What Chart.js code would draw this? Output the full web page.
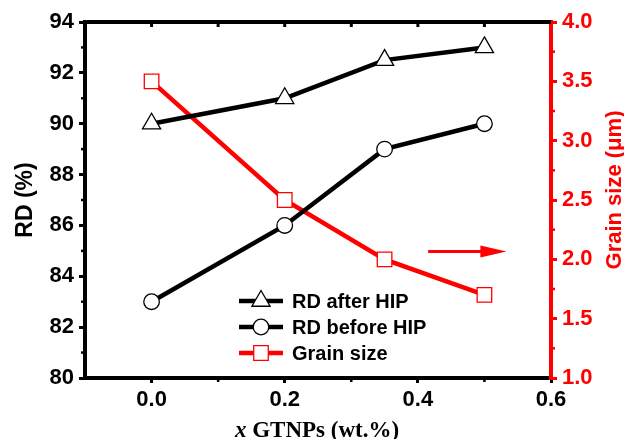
<!DOCTYPE html>
<html><head><meta charset="utf-8">
<script src="https://cdn.jsdelivr.net/npm/chart.js@4.4.0/dist/chart.umd.min.js"></script>
<style>html,body{margin:0;padding:0;background:#fff}#wrap{width:624px;height:439px}</style>
</head><body><div id="wrap"><canvas id="c" width="624" height="439"></canvas></div>
<script>
const xValues = [0, 0.2, 0.35, 0.5];
const rdAfterHIP = [90, 91, 92.5, 93];
const rdBeforeHIP = [83, 86, 89, 90];
const grainSize = [3.5, 2.5, 2.0, 1.7];
const xTicks = [0, 0.2, 0.4, 0.6];
const xMinorTicks = [-0.1, 0.1, 0.3, 0.5];
const rdTicks = [80, 82, 84, 86, 88, 90, 92, 94];
const rdMinorTicks = [81, 83, 85, 87, 89, 91, 93];
const grainTicks = [1.0, 1.5, 2.0, 2.5, 3.0, 3.5, 4.0];
const grainMinorTicks = [1.25, 1.75, 2.25, 2.75, 3.25, 3.75];
const seriesNames = ['RD after HIP', 'RD before HIP', 'Grain size'];
const arrowFrom = [0.4155, 2.065];
const arrowTo = [0.533, 2.065];

const RED = '#ff0000';
const FONT = '"Liberation Sans", Arial, sans-serif';

function pts(ys){ return xValues.map((x,i)=>({x:x, y:ys[i]})); }

const datasets = [
  {label: seriesNames[0], data: pts(rdAfterHIP), yAxisID:'y', borderColor:'#000', borderWidth:4.5,
   pointStyle:'triangle', pointRadius:10.5, pointBackgroundColor:'#fff', pointBorderColor:'#000', pointBorderWidth:1.3, tension:0},
  {label: seriesNames[1], data: pts(rdBeforeHIP), yAxisID:'y', borderColor:'#000', borderWidth:4.5,
   pointStyle:'circle', pointRadius:7.8, pointBackgroundColor:'#fff', pointBorderColor:'#000', pointBorderWidth:1.3, tension:0},
  {label: seriesNames[2], data: pts(grainSize), yAxisID:'y2', borderColor:RED, borderWidth:4.5,
   pointStyle:'rect', pointRadius:10.3, pointBackgroundColor:'#fff', pointBorderColor:RED, pointBorderWidth:1.3, tension:0}
];

function setTicks(list){ return function(scale){ scale.ticks = list.map(v=>({value:v})); }; }

const extras = {
  id:'extras',
  afterDraw(chart){
    const ctx = chart.ctx, a = chart.chartArea;
    const xs = chart.scales.x, ys = chart.scales.y, y2 = chart.scales.y2;
    ctx.save();
    // top frame
    ctx.strokeStyle = '#000'; ctx.lineWidth = 4;
    ctx.beginPath(); ctx.moveTo(a.left-2, a.top); ctx.lineTo(a.right, a.top); ctx.stroke();
    // top ticks inward
    ctx.lineWidth = 3;
    xTicks.concat(xMinorTicks).forEach(v=>{
      const px = xs.getPixelForValue(v);
      if (px < a.left+3 || px > a.right-3) return;
      ctx.beginPath(); ctx.moveTo(px, a.top); ctx.lineTo(px, a.top+5); ctx.stroke();
    });
    // minor ticks
    ctx.lineWidth = 2.5;
    xMinorTicks.forEach(v=>{
      const px = xs.getPixelForValue(v);
      if (px < a.left+3) return;
      ctx.beginPath(); ctx.moveTo(px, a.bottom); ctx.lineTo(px, a.bottom+4); ctx.stroke();
    });
    rdMinorTicks.forEach(v=>{
      const py = ys.getPixelForValue(v);
      ctx.beginPath(); ctx.moveTo(a.left-4, py); ctx.lineTo(a.left, py); ctx.stroke();
    });
    ctx.strokeStyle = RED;
    grainMinorTicks.forEach(v=>{
      const py = y2.getPixelForValue(v);
      ctx.beginPath(); ctx.moveTo(a.right, py); ctx.lineTo(a.right+4, py); ctx.stroke();
    });
    // arrow
    const ax1 = xs.getPixelForValue(arrowFrom[0]), ay1 = y2.getPixelForValue(arrowFrom[1]);
    const ax2 = xs.getPixelForValue(arrowTo[0]), ay2 = y2.getPixelForValue(arrowTo[1]);
    ctx.strokeStyle = RED; ctx.fillStyle = RED; ctx.lineWidth = 3;
    ctx.beginPath(); ctx.moveTo(ax1, ay1); ctx.lineTo(ax2-20, ay2); ctx.stroke();
    ctx.beginPath(); ctx.moveTo(ax2, ay2); ctx.lineTo(ax2-26, ay2-6); ctx.lineTo(ax2-26, ay2+6); ctx.closePath(); ctx.fill();
    // titles
    ctx.fillStyle = '#000';
    ctx.font = 'bold 23px ' + FONT;
    ctx.textAlign = 'center'; ctx.textBaseline = 'alphabetic';
    ctx.save(); ctx.translate(32, 200); ctx.rotate(-Math.PI/2); ctx.fillText('RD (%)', 0, 0); ctx.restore();
    ctx.fillStyle = RED;
    ctx.font = 'bold 22px ' + FONT;
    ctx.save(); ctx.translate(621, 190); ctx.rotate(-Math.PI/2); ctx.fillText('Grain size (\u03bcm)', 0, 0); ctx.restore();
    // x title
    ctx.fillStyle = '#000';
    const f1 = 'italic bold 23px "Liberation Serif", "Times New Roman", serif';
    const f2 = 'bold 23px "Liberation Serif", "Times New Roman", serif';
    const t1 = 'x', t2 = ' GTNPs (wt.%)';
    ctx.font = f1; const w1 = ctx.measureText(t1).width;
    ctx.font = f2; const w2 = ctx.measureText(t2).width;
    let sx = 317 - (w1+w2)/2;
    ctx.textAlign = 'left';
    ctx.font = f1; ctx.fillText(t1, sx, 437);
    ctx.font = f2; ctx.fillText(t2, sx + w1, 437);
    // legend
    const rowsY = [301, 327, 353];
    ctx.font = 'bold 20px ' + FONT;
    ctx.textBaseline = 'middle';
    chart.data.datasets.forEach((ds, i)=>{
      const yy = rowsY[i];
      ctx.strokeStyle = ds.borderColor; ctx.lineWidth = 4.5;
      ctx.beginPath(); ctx.moveTo(239, yy); ctx.lineTo(283, yy); ctx.stroke();
      ctx.fillStyle = ds.pointBackgroundColor; ctx.strokeStyle = ds.pointBorderColor; ctx.lineWidth = ds.pointBorderWidth;
      Chart.helpers.drawPoint(ctx, {pointStyle: ds.pointStyle, radius: ds.pointRadius, rotation: 0, borderWidth: ds.pointBorderWidth}, 261, yy);
      ctx.fillStyle = '#000';
      ctx.fillText(ds.label, 292, yy+1);
    });
    ctx.restore();
  }
};

new Chart(document.getElementById('c'), {
  type: 'line',
  data: { datasets: datasets },
  options: {
    responsive: false, animation: false, devicePixelRatio: 1,
    layout: { padding: { top: 22, left: 0, right: 0, bottom: 0 } },
    plugins: { legend: { display: false }, tooltip: { enabled: false } },
    scales: {
      x: {
        type: 'linear', min: -0.1, max: 0.6,
        afterBuildTicks: setTicks(xTicks),
        afterFit(s){ s.height = 61; },
        grid: { drawOnChartArea: false, drawTicks: true, tickLength: 5, color: '#000', lineWidth: 3 },
        border: { display: true, color: '#000', width: 4 },
        ticks: { color: '#000', font: { family: FONT, size: 22, weight: 'bold' }, padding: 4,
                 callback: v => v.toFixed(1), maxRotation: 0 }
      },
      y: {
        type: 'linear', position: 'left', min: 80, max: 94,
        afterBuildTicks: setTicks(rdTicks),
        afterFit(s){ s.width = 85; },
        grid: { drawOnChartArea: false, drawTicks: true, tickLength: 6, color: '#000', lineWidth: 3 },
        border: { display: true, color: '#000', width: 4 },
        ticks: { color: '#000', font: { family: FONT, size: 22, weight: 'bold' }, padding: 5,
                 callback: v => String(v) }
      },
      y2: {
        type: 'linear', position: 'right', min: 1.0, max: 4.0,
        afterBuildTicks: setTicks(grainTicks),
        afterFit(s){ s.width = 73; },
        grid: { drawOnChartArea: false, drawTicks: true, tickLength: 6, color: RED, lineWidth: 3 },
        border: { display: true, color: RED, width: 4 },
        ticks: { color: RED, font: { family: FONT, size: 22, weight: 'bold' }, padding: 5,
                 callback: v => v.toFixed(1) }
      }
    }
  },
  plugins: [extras]
});
</script>
</body></html>
